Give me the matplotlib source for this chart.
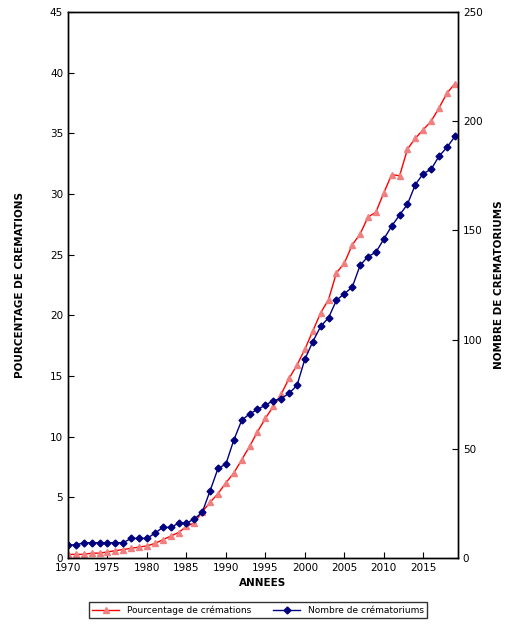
import matplotlib.pyplot as plt
from matplotlib.ticker import MultipleLocator

years = list(range(1970, 2020))
pourcentage = [0.3, 0.3, 0.3, 0.4, 0.4, 0.5, 0.6, 0.7, 0.8, 0.9,
               1.0, 1.2, 1.5, 1.8, 2.1, 2.6, 2.9, 3.8, 4.6, 5.3,
               6.2, 7.0, 8.1, 9.2, 10.4, 11.5, 12.5, 13.5, 14.8, 15.9,
               17.2, 18.7, 20.2, 21.3, 23.5, 24.3, 25.8, 26.7, 28.1, 28.5,
               30.1, 31.6, 31.5, 33.7, 34.6, 35.3, 36.0, 37.1, 38.3, 39.1]
crematoriums = [6, 6, 7, 7, 7, 7, 7, 7, 9, 9,
                9, 11.3, 14, 14, 15.9, 15.9, 17.9, 20.9, 30.8, 41,
                43, 54, 63, 66, 68, 70, 72, 73, 75.4, 79,
                91, 99, 106, 110, 118, 121, 124, 134, 138, 140,
                146, 152, 157, 162, 171, 176, 178, 184, 188, 193]

fig = plt.figure(figsize=(5.15, 6.33), dpi=100)
ax = fig.add_axes([68/515, 1 - 558/633, 390/515, 546/633])
ax2 = ax.twinx()

l1, = ax.plot(years, pourcentage, color="red", lw=1, marker="^", ms=5,
              mfc="#f08080", mec="#f08080", label="Pourcentage de crémations")
l2, = ax2.plot(years, crematoriums, color="navy", lw=1, marker="D", ms=3.5,
               mfc="navy", mec="navy", label="Nombre de crématoriums")

ax.set_xlim(1970, 2019.4)
ax.set_ylim(0, 45)
ax2.set_ylim(0, 250)
ax.set_xticks(range(1970, 2016, 5))
ax.yaxis.set_major_locator(MultipleLocator(5))
ax2.yaxis.set_major_locator(MultipleLocator(50))
for a in (ax, ax2):
    a.tick_params(labelsize=7.5, direction="in", length=4)
    for s in a.spines.values():
        s.set_linewidth(1)

ax.set_xlabel("ANNEES", fontsize=7.5, fontweight="bold")
ax.set_ylabel("POURCENTAGE DE CREMATIONS", fontsize=7.5, fontweight="bold", labelpad=18)
ax2.set_ylabel("NOMBRE DE CREMATORIUMS", fontsize=7.5, fontweight="bold", labelpad=8)

fig.legend(handles=[l1, l2], loc="center", bbox_to_anchor=(258/515, 1 - 610/633),
           ncol=2, fontsize=6.5, frameon=True, fancybox=False, edgecolor="black",
           handlelength=3, columnspacing=2.5)

fig.savefig("out.png", dpi=100)
